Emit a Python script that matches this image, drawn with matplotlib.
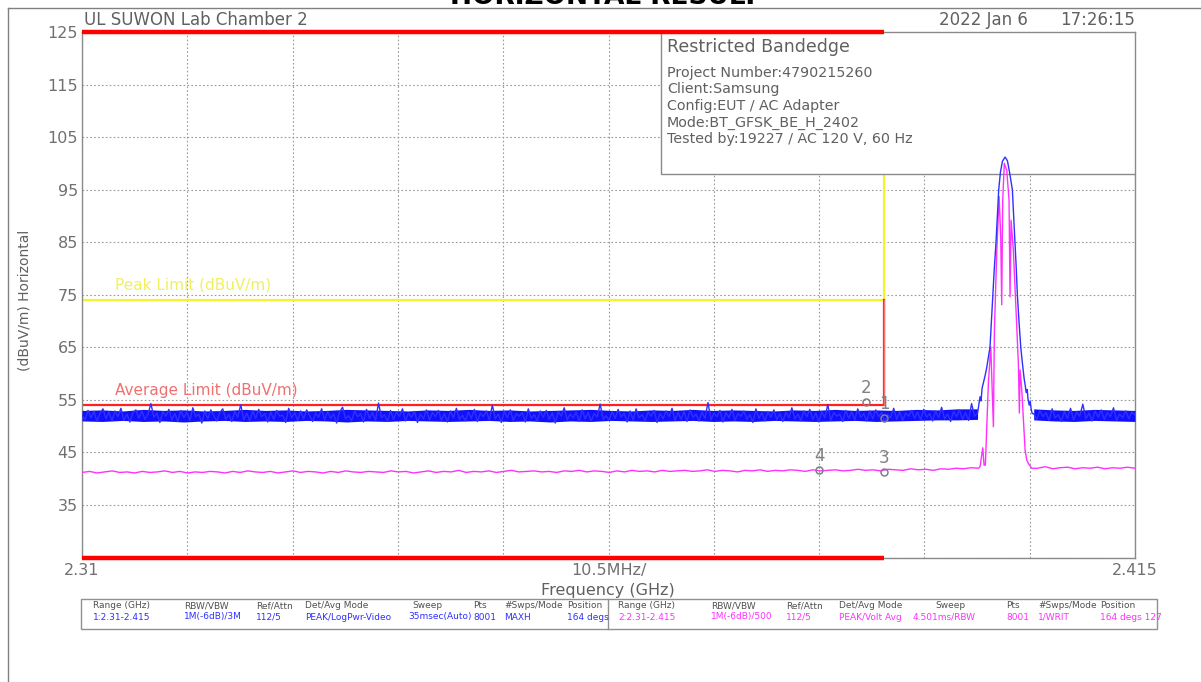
import numpy as np
import matplotlib.pyplot as plt
from matplotlib.patches import Rectangle
from matplotlib.lines import Line2D

W, H = 1201, 682

f_start, f_stop = 2.31, 2.415
y_lo, y_hi = 25, 125
band_edge = 2.39
peak_limit = 74
avg_limit = 54

# trace 1 (blue, MAXH) noise floor left of carrier, 2.310 .. 2.3993 GHz
blue_left = [
    52.1, 51.2, 53.0, 51.6, 52.8, 50.9, 52.4, 53.3, 51.4, 52.7, 51.0, 52.9, 51.8, 53.4, 51.1, 52.3, 50.8, 52.6, 53.1, 51.5,
    52.9, 51.3, 52.2, 54.3, 51.7, 52.5, 50.7, 52.8, 51.9, 53.2, 51.2, 52.4, 50.9, 53.0, 51.6, 52.7, 51.1, 53.5, 51.8, 52.3,
    50.6, 52.9, 51.4, 53.1, 52.0, 51.0, 52.6, 53.3, 51.3, 52.2, 50.9, 52.8, 51.7, 54.1, 51.2, 52.5, 51.0, 52.9, 51.5, 53.2,
    51.8, 52.4, 50.8, 52.7, 51.3, 53.0, 51.9, 52.1, 50.7, 53.4, 51.6, 52.6, 51.1, 52.9, 51.4, 53.1, 52.0, 50.9, 52.5, 51.7,
    53.3, 51.2, 52.8, 51.5, 52.3, 50.6, 52.7, 53.6, 51.4, 52.0, 51.0, 52.9, 51.8, 52.4, 50.8, 53.2, 51.5, 52.6, 51.1, 54.4,
    51.6, 52.2, 50.9, 53.0, 51.3, 52.7, 51.9, 53.3, 51.0, 52.5, 51.7, 52.8, 50.7, 52.3, 51.4, 53.1, 51.2, 52.6, 51.8, 53.0,
    51.1, 52.4, 50.8, 52.9, 51.6, 53.4, 51.3, 52.1, 51.0, 52.7, 51.5, 53.2, 50.9, 52.5, 51.8, 52.9, 51.2, 54.0, 51.4, 52.3,
    50.7, 52.8, 51.6, 53.1, 51.1, 52.4, 51.9, 52.6, 50.8, 53.3, 51.5, 52.2, 51.0, 52.9, 51.7, 53.0, 51.3, 52.5, 50.6, 52.8,
    51.9, 53.5, 51.2, 52.3, 51.6, 52.7, 50.9, 53.1, 51.4, 52.6, 51.0, 52.4, 51.8, 54.2, 51.3, 52.0, 51.1, 52.8, 51.5, 53.2,
    51.7, 52.5, 50.8, 52.9, 51.2, 53.3, 51.6, 52.2, 51.0, 52.7, 51.9, 53.0, 50.7, 52.4, 51.4, 52.9, 51.8, 53.4, 51.1, 52.6,
    51.3, 52.8, 50.9, 53.1, 51.7, 52.3, 51.0, 52.7, 51.5, 54.5, 51.2, 52.5, 51.8, 53.0, 50.8, 52.6, 51.6, 53.2, 51.1, 52.4,
    51.9, 52.9, 51.3, 52.2, 50.7, 53.3, 51.5, 52.6, 51.0, 52.8, 51.7, 53.1, 51.2, 52.4, 50.9, 52.7, 51.6, 53.5, 51.4, 52.3,
    51.0, 52.9, 51.8, 53.2, 51.3, 52.5, 50.8, 52.8, 51.6, 54.1, 51.1, 52.6, 51.9, 52.3, 50.9, 53.0, 51.5, 52.7, 51.2, 53.3,
    51.7, 52.4, 51.0, 52.9, 51.4, 53.1, 51.8, 52.6, 50.8, 52.2, 51.6, 53.4, 51.3, 52.8, 51.1, 52.5, 51.9, 53.0, 51.5, 52.7,
    51.2, 53.2, 51.7, 52.4, 51.0, 52.9, 51.6, 53.6, 51.4, 52.3, 50.9, 52.8, 51.8, 53.1, 51.3, 52.6, 51.1, 54.3, 51.9, 52.5,
]
# carrier (offset in MHz from 2.31 GHz)
blue_peak_mhz = [89.45, 89.55, 89.65, 89.75, 89.9, 90.05, 90.2, 90.35, 90.54, 90.68, 90.81, 90.97, 91.14, 91.28,
                 91.41, 91.58, 91.78, 92.04, 92.28, 92.5, 92.77, 92.9, 93.04, 93.16, 93.27, 93.43, 93.61, 93.8,
                 93.95, 94.05, 94.15, 94.25, 94.33, 94.45, 94.55, 94.65, 94.75]
blue_peak = [54.3, 55.6, 54.8, 57.2, 58.4, 59.6, 61.0, 62.8, 65.0, 70.0, 75.0, 80.0, 85.0, 90.0,
             95.0, 98.3, 100.4, 101.2, 100.5, 98.2, 95.0, 90.0, 85.0, 80.0, 75.0, 70.0, 65.0, 61.5,
             59.0, 57.8, 56.4, 57.0, 55.2, 54.0, 54.8, 53.2, 52.4]
# right of carrier, 2.4049 .. 2.415 GHz
blue_right = [52.4, 51.3, 53.0, 51.8, 52.6, 51.1, 53.3, 51.6, 52.2, 50.9, 52.8, 51.5, 53.4, 51.2, 52.7, 51.9, 54.2,
              51.4, 52.5, 51.0, 52.9, 51.7, 53.1, 51.3, 52.6, 51.8, 53.5, 51.1, 52.3, 51.6, 52.9, 51.4, 52.7, 52.1]

# dense part of the blue noise band (2 MHz steps), left and right of the carrier
band_left_lo = [51.0, 50.9, 51.1, 50.9, 51.0, 50.8, 51.0, 51.1, 50.9, 51.0, 50.9, 51.1, 51.0, 50.8, 51.0,
                50.9, 51.1, 51.0, 50.9, 51.0, 51.1, 50.9, 51.0, 50.8, 51.0, 50.9, 51.1, 51.0, 50.9, 51.0,
                51.1, 50.9, 51.0, 50.9, 51.1, 51.0, 50.9, 51.0, 51.1, 50.9, 51.0, 51.1, 51.2, 51.2, 51.3]
band_left_hi = [53.0, 53.1, 52.9, 53.2, 53.0, 53.1, 52.9, 53.0, 53.2, 53.0, 53.1, 52.9, 53.0, 53.2, 53.1,
                53.0, 52.9, 53.1, 53.0, 53.2, 53.0, 53.1, 52.9, 53.0, 53.1, 53.2, 53.0, 52.9, 53.1, 53.0,
                53.2, 53.0, 53.1, 53.0, 52.9, 53.1, 53.0, 53.2, 53.0, 53.1, 53.0, 53.2, 53.1, 53.3, 53.3]
band_right_lo = [51.2, 51.0, 50.9, 51.1, 51.0, 50.9]
band_right_hi = [53.3, 53.1, 53.0, 53.2, 53.1, 53.0]

# trace 2 (magenta, average)
mag_left = [
    41.2, 41.4, 41.1, 41.3, 41.5, 41.2, 41.3, 41.1, 41.4, 41.2, 41.3, 41.5, 41.2, 41.4, 41.1, 41.3, 41.2, 41.4, 41.3, 41.1,
    41.4, 41.2, 41.5, 41.3, 41.2, 41.4, 41.1, 41.3, 41.5, 41.2, 41.4, 41.3, 41.1, 41.4, 41.2, 41.5, 41.3, 41.2, 41.4, 41.3,
    41.2, 41.5, 41.3, 41.4, 41.1, 41.3, 41.5, 41.2, 41.4, 41.3, 41.6, 41.2, 41.4, 41.3, 41.5, 41.2, 41.4, 41.6, 41.3, 41.4,
    41.5, 41.3, 41.4, 41.2, 41.5, 41.4, 41.6, 41.3, 41.5, 41.4, 41.2, 41.5, 41.3, 41.6, 41.4, 41.5, 41.3, 41.6, 41.4, 41.5,
    41.6, 41.4, 41.5, 41.7, 41.4, 41.6, 41.5, 41.3, 41.6, 41.5, 41.7, 41.4, 41.6, 41.5, 41.7, 41.6, 41.4, 41.7, 41.5, 41.6,
    41.7, 41.5, 41.6, 41.8, 41.6, 41.7, 41.5, 41.8, 41.7, 41.6, 41.9, 41.7, 41.8, 41.6, 41.9, 41.8, 42.0, 41.9, 42.1, 42.0,
]
mag_peak_mhz = [89.55, 89.82, 89.95, 90.08, 90.38, 90.62, 90.88, 90.98, 91.22, 91.45, 91.61, 91.71, 91.81, 91.97,
                92.21, 92.44, 92.54, 92.64, 92.87, 93.14, 93.37, 93.47, 93.54, 93.71, 94.04, 94.2, 94.37, 94.7]
mag_peak = [42.3, 45.9, 42.6, 42.6, 58.2, 65.1, 49.9, 68.3, 83.5, 93.7, 86.1, 73.1, 93.0, 100.0,
            98.7, 93.0, 74.6, 89.2, 83.5, 72.1, 62.0, 52.5, 60.7, 56.9, 45.5, 43.6, 42.9, 42.0]
mag_right = [42.0, 42.3, 41.9, 42.1, 42.2, 41.9, 42.1, 42.0, 42.2, 41.9, 42.1, 42.0, 42.2, 42.0]

mk_labels = ['1', '2', '3', '4']
mk_freq = [2.3900, 2.3882, 2.3900, 2.3835]
mk_level = [51.6, 54.6, 41.3, 41.7]

info_title = 'Restricted Bandedge'
info_lines = ['Project Number:4790215260', 'Client:Samsung', 'Config:EUT / AC Adapter',
              'Mode:BT_GFSK_BE_H_2402', 'Tested by:19227 / AC 120 V, 60 Hz']

tbl_head = ['Range (GHz)', 'RBW/VBW', 'Ref/Attn', 'Det/Avg Mode', 'Sweep', 'Pts', '#Swps/Mode', 'Position']
tbl_row1 = ['1:2.31-2.415', '1M(-6dB)/3M', '112/5', 'PEAK/LogPwr-Video', '35msec(Auto)', '8001', 'MAXH', '164 degs']
tbl_row2 = ['2:2.31-2.415', '1M(-6dB)/500', '112/5', 'PEAK/Volt Avg', '4.501ms/RBW', '8001', '1/WRIT', '164 degs 127']


def px(x, y):
    return x / W, 1 - y / H


gray = '#707070'
blue_f = np.concatenate([np.linspace(f_start, 2.3993, len(blue_left)),
                         f_start + np.array(blue_peak_mhz) / 1000,
                         np.linspace(2.4049, f_stop, len(blue_right))])
blue_v = np.concatenate([blue_left, blue_peak, blue_right])
mag_f = np.concatenate([np.linspace(f_start, 2.3994, len(mag_left)),
                        f_start + np.array(mag_peak_mhz) / 1000,
                        np.linspace(2.4053, f_stop, len(mag_right))])
mag_v = np.concatenate([mag_left, mag_peak, mag_right])

fig = plt.figure(figsize=(W / 100, H / 100), dpi=100)
fig.patch.set_facecolor('white')
ax = fig.add_axes([82 / W, 1 - 557.6 / H, (1135 - 82) / W, (557.6 - 32) / H])
ax.set_xlim(f_start, f_stop)
ax.set_ylim(y_lo, y_hi)

xt = np.linspace(f_start, f_stop, 11)
ax.set_xticks(xt)
ax.set_xticklabels(['2.31', '', '', '', '', '10.5MHz/', '', '', '', '', '2.415'])
ax.set_yticks(np.arange(y_lo, y_hi + 1, 10))
ax.set_yticklabels([''] + [str(v) for v in range(35, 126, 10)])
ax.tick_params(length=0, colors=gray, labelsize=11.5, pad=3)
ax.tick_params(axis='x', pad=4)
ax.grid(True, color='#9a9a9a', linestyle=(0, (1.5, 2)), linewidth=0.8, zorder=0.5)
ax.set_axisbelow(True)
for s in ax.spines.values():
    s.set_color('#8a8a8a')
    s.set_linewidth(1)

# limits
ax.plot([f_start, band_edge, band_edge], [peak_limit, peak_limit, y_hi], color='#f2f230', lw=1.6, zorder=2)
ax.plot([f_start, band_edge, band_edge], [avg_limit, avg_limit, peak_limit], color='#ff2020', lw=1.6, zorder=2.1)
ax.plot([band_edge, band_edge], [avg_limit, peak_limit], color='#ff7070', lw=1.0, zorder=2.2)
ax.text(2.3133, peak_limit + 1.4, 'Peak Limit (dBuV/m)', color='#f0f060', fontsize=11, va='bottom', zorder=2)
ax.text(2.3133, avg_limit + 1.4, 'Average Limit (dBuV/m)', color='#f07070', fontsize=11, va='bottom', zorder=2)

# restricted band markers along top and bottom
for yy in (y_hi, y_lo):
    ax.plot([f_start, band_edge], [yy, yy], color='#ff0000', lw=3.2, solid_capstyle='butt', clip_on=False, zorder=6)

# info box
ax.add_patch(Rectangle(((661 - 82) / 1053, 1 - (174 - 32) / 525.6), (1135 - 661) / 1053, (174 - 32) / 525.6,
                       transform=ax.transAxes, facecolor='white', edgecolor='#8a8a8a', lw=1, zorder=3))
fig.text(*px(667, 47), info_title, fontsize=12.5, color='#606060', va='center')
for i, t in enumerate(info_lines):
    fig.text(*px(667, 73 + i * 16.5), t, fontsize=10.3, color='#606060', va='center')

# traces
ax.plot(mag_f, mag_v, color='#ff30ff', lw=1.0, zorder=4)
ax.fill_between(np.linspace(f_start, 2.3993, len(band_left_lo)), band_left_lo, band_left_hi,
                color='#1010ff', lw=0, zorder=4.3)
ax.fill_between(np.linspace(2.4049, f_stop, len(band_right_lo)), band_right_lo, band_right_hi,
                color='#1010ff', lw=0, zorder=4.3)
ax.plot(blue_f, blue_v, color='#3030ff', lw=1.0, zorder=4.5)

# markers
for lab, f, v in zip(mk_labels, mk_freq, mk_level):
    ax.plot(f, v, 'o', ms=5, mfc='none', mec='#808080', mew=1.1, zorder=5)
    ax.annotate(lab, (f, v), xytext=(0, 10), textcoords='offset points', ha='center', va='center',
                fontsize=12, color='#808080', zorder=5)

# header texts
fig.text(*px(84, 20), 'UL SUWON Lab Chamber 2', fontsize=12, color='#606060', va='center')
fig.text(*px(1028, 20), '2022 Jan 6', fontsize=12, color='#606060', va='center', ha='right')
fig.text(*px(1135, 20), '17:26:15', fontsize=12, color='#606060', va='center', ha='right')
fig.text(*px(605, 4), 'HORIZONTAL RESULT', fontsize=19, fontweight='bold', color='black',
         ha='center', va='baseline')
fig.text(*px(25, 300), '(dBuV/m) Horizontal', rotation=90, fontsize=10, color='#606060', ha='center', va='center')
fig.text(*px(608, 590), 'Frequency (GHz)', fontsize=11.5, color='#606060', ha='center', va='center')

# page frame
fig.add_artist(Line2D([8 / W, 1], [1 - 8 / H, 1 - 8 / H], color='#808080', lw=1))
fig.add_artist(Line2D([8 / W, 8 / W], [0, 1 - 8 / H], color='#808080', lw=1))

# settings table
fig.add_artist(Rectangle(px(81, 629), (1157 - 81) / W, 30 / H, facecolor='none', edgecolor='#909090', lw=1))
fig.add_artist(Line2D([608 / W, 608 / W], [1 - 629 / H, 1 - 599 / H], color='#909090', lw=1))
cols1 = [93, 184, 256, 305, 408, 473, 504, 567]
cols2 = [618, 711, 786, 839, 913, 1006, 1038, 1100]
for x1, x2, h, a, b in zip(cols1, cols2, tbl_head, tbl_row1, tbl_row2):
    fig.text(*px(x1 if h != 'Sweep' else x1 + 4, 606), h, fontsize=6.5, color='#505050', va='center')
    fig.text(*px(x2 if h != 'Sweep' else x2 + 22, 606), h, fontsize=6.5, color='#505050', va='center')
    fig.text(*px(x1, 617), a, fontsize=6.5, color='#3030ff', va='center')
    fig.text(*px(x2, 617), b, fontsize=6.5, color='#ff30ff', va='center')

fig.savefig('out.png', dpi=100)
